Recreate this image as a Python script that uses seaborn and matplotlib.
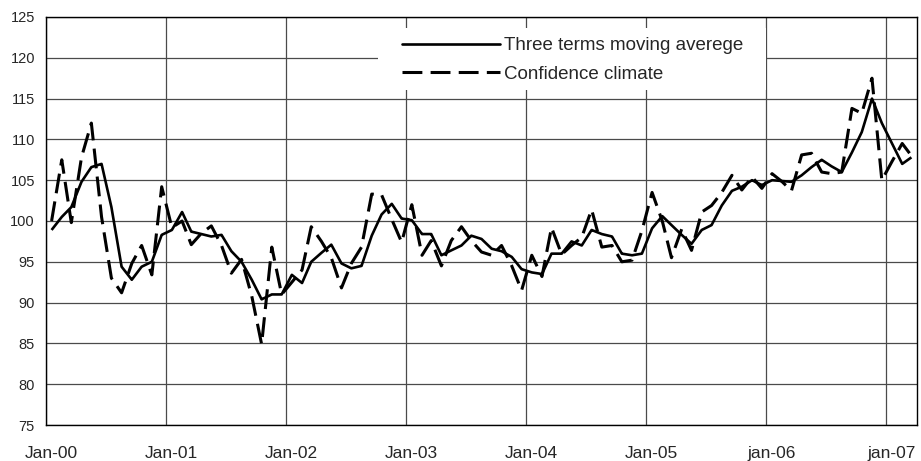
import numpy as np
import pandas as pd
import matplotlib
matplotlib.use("Agg")
import matplotlib.pyplot as plt
import matplotlib.transforms as mtransforms
from matplotlib.patches import Rectangle
from matplotlib.lines import Line2D
import seaborn as sns

# monthly series, Jan-2000 .. Mar-2007
moving_avg = [98.9, 100.5, 101.7, 104.8, 106.6, 107.0, 101.7, 94.4, 92.8, 94.4,
              95.0, 98.3, 98.9, 101.1, 98.7, 98.4, 98.1, 98.3, 96.3, 95.0,
              92.8, 90.4, 91.0, 91.0, 93.4, 92.4, 95.0, 96.1, 97.1, 94.8,
              94.2, 94.5, 98.2, 100.8, 102.1, 100.3, 100.1, 98.4, 98.4, 95.8,
              96.4, 97.0, 98.2, 97.8, 96.6, 96.3, 95.6, 94.1, 93.7, 93.5,
              96.0, 96.0, 97.5, 97.0, 98.9, 98.4, 98.1, 96.0, 95.8, 96.0,
              99.1, 100.6, 99.5, 98.3, 97.2, 98.9, 99.5, 101.9, 103.7, 104.2,
              105.0, 104.4, 105.0, 104.9, 104.8, 105.6, 106.6, 107.5, 106.7, 106.0,
              108.4, 110.9, 115.0, 112.0, 109.5, 107.0, 107.8]

confidence = [100.0, 107.5, 99.8, 107.8, 112.0, 100.5, 93.0, 91.2, 94.8, 97.0,
              93.4, 104.2, 99.2, 100.0, 97.1, 98.5, 99.4, 97.0, 93.6, 95.3,
              90.8, 84.9, 96.8, 91.0, 92.5, 94.0, 99.3, 97.5, 95.5, 91.8,
              94.8, 96.8, 103.3, 103.2, 100.2, 97.4, 102.0, 95.8, 97.6, 94.5,
              97.6, 99.3, 97.6, 96.2, 95.8, 97.0, 94.5, 91.5, 95.8, 93.2,
              99.2, 95.9, 97.0, 98.0, 101.4, 96.8, 97.0, 95.0, 95.2, 98.8,
              103.5, 100.0, 95.5, 99.0, 96.4, 101.1, 101.9, 103.5, 105.6, 103.8,
              105.4, 104.0, 105.8, 104.8, 103.7, 108.1, 108.3, 106.0, 105.8, 106.0,
              113.8, 113.2, 117.5, 105.0, 107.3, 109.5, 108.0]

tick_labels = ["Jan-00", "Jan-01", "Jan-02", "Jan-03", "Jan-04", "Jan-05", "jan-06", "jan-07"]
series_names = ["Three terms moving averege", "Confidence climate"]

dates = pd.date_range("2000-01-01", periods=len(moving_avg), freq="MS") + pd.Timedelta(days=17)
df = pd.DataFrame({"date": dates, series_names[0]: moving_avg, series_names[1]: confidence})
long_df = df.melt(id_vars="date", var_name="series", value_name="value")

sns.set_style("white")
plt.rcParams["font.family"] = ["Liberation Sans", "DejaVu Sans"]

fig = plt.figure(figsize=(9.21, 4.61), dpi=100)
ax = fig.add_axes([46 / 921, 36 / 461, 871 / 921, 408 / 461])

sns.lineplot(data=long_df, x="date", y="value", hue="series", style="series",
             palette=["black", "black"], dashes=[(1, 0), (6.5, 2.7)],
             size="series", sizes=[1.9, 2.2], ax=ax, legend=False, zorder=3)

ax.set_ylim(75, 125)
ax.set_yticks(np.arange(75, 126, 5))
ax.set_xlim(pd.Timestamp("2000-01-01"), pd.Timestamp("2007-04-04"))
ax.set_xticks([pd.Timestamp(f"{2000 + i}-01-01") for i in range(len(tick_labels))])
ax.set_xticklabels(tick_labels)
ax.set_xlabel("")
ax.set_ylabel("")

ax.grid(True, color="#4a4a4a", linewidth=0.9, zorder=0)
ax.set_axisbelow(True)
for sp in ax.spines.values():
    sp.set_color("black")
    sp.set_linewidth(1.0)

ax.tick_params(axis="y", direction="out", length=5, width=0.9, labelsize=10.5, pad=3)
ax.tick_params(axis="x", length=0, labelsize=12.5, pad=15)
shift = mtransforms.ScaledTranslation(5 / 100, 0, fig.dpi_scale_trans)
for lab in ax.get_xticklabels():
    lab.set_transform(lab.get_transform() + shift)

# white box behind the legend hiding the grid
ax.add_patch(Rectangle(((378 - 46) / 871, (425 - 90) / 408), (766 - 378) / 871, 62 / 408,
                       transform=ax.transAxes, facecolor="white", edgecolor="none", zorder=1))

handles = [Line2D([], [], color="black", linewidth=1.9),
           Line2D([], [], color="black", linewidth=2.2, dashes=(6.5, 2.7))]
ax.legend(handles, series_names, loc="upper left",
          bbox_to_anchor=((402 - 46) / 871, (425 - 37) / 408),
          frameon=False, fontsize=13.5, handlelength=5.2, handletextpad=0.25,
          labelspacing=0.63, borderpad=0, borderaxespad=0)

fig.savefig("out.png", dpi=100)
